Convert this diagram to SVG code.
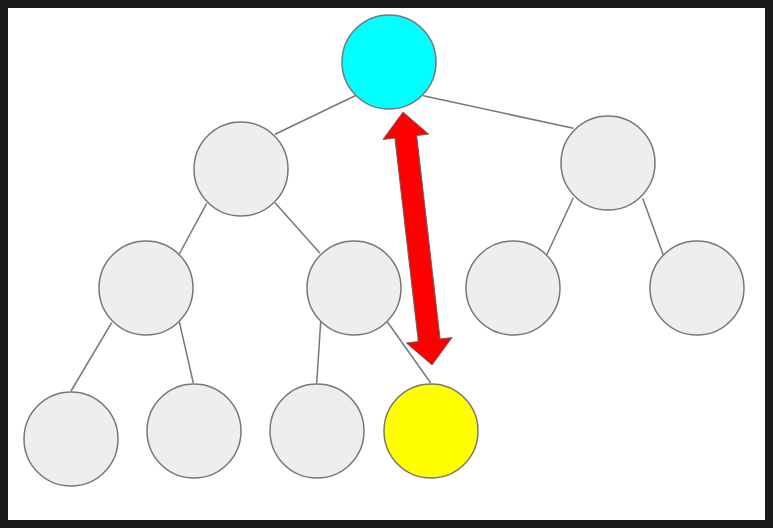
<svg xmlns="http://www.w3.org/2000/svg" width="773" height="528" viewBox="0 0 773 528">
<style>
.n{fill:#eeeeee;stroke:#777777;stroke-width:1.5}
.e{stroke:#777777;stroke-width:1.5;fill:none}
</style>
<rect x="0" y="0" width="773" height="528" fill="#1b1b1b"/>
<rect x="8" y="8" width="757" height="512" fill="#ffffff"/>
<g id="edges">
<line class="e" x1="356.7" y1="95" x2="275" y2="134.3"/>
<line class="e" x1="423.3" y1="95.7" x2="573.3" y2="128.3"/>
<line class="e" x1="206.7" y1="203.3" x2="179.3" y2="254"/>
<line class="e" x1="275" y1="202.7" x2="320" y2="253.3"/>
<line class="e" x1="573.3" y1="197.7" x2="546.7" y2="255"/>
<line class="e" x1="642.7" y1="198.3" x2="663.3" y2="255"/>
<line class="e" x1="111.7" y1="322.7" x2="71" y2="391"/>
<line class="e" x1="179.3" y1="321.7" x2="193.3" y2="383"/>
<line class="e" x1="320.7" y1="321.7" x2="316.7" y2="383"/>
<line class="e" x1="387.3" y1="321.7" x2="430.7" y2="383"/>
</g>
<g id="root"><circle class="n" cx="389" cy="62" r="47" style="fill:#00ffff"/></g>
<g id="n1"><circle class="n" cx="241" cy="169" r="47"/></g>
<g id="n2"><circle class="n" cx="608" cy="163" r="47"/></g>
<g id="n3"><circle class="n" cx="146" cy="288" r="47"/></g>
<g id="n4"><circle class="n" cx="354" cy="288" r="47"/></g>
<g id="n5"><circle class="n" cx="513" cy="288" r="47"/></g>
<g id="n6"><circle class="n" cx="697" cy="288" r="47"/></g>
<g id="n7"><circle class="n" cx="71" cy="439" r="47"/></g>
<g id="n8"><circle class="n" cx="194" cy="431" r="47"/></g>
<g id="n9"><circle class="n" cx="317" cy="431" r="47"/></g>
<g id="n10"><circle class="n" cx="431" cy="431" r="47" style="fill:#ffff00"/></g>
<g id="arrow">
<polygon points="403,112 428.7,134.2 416.7,135.5 440.1,338.9 452,337.6 432,365 406.4,343 418.3,341.5 394.9,138.1 383,139.4" fill="#ff0000" stroke="#666666" stroke-width="1"/>
</g>
</svg>
